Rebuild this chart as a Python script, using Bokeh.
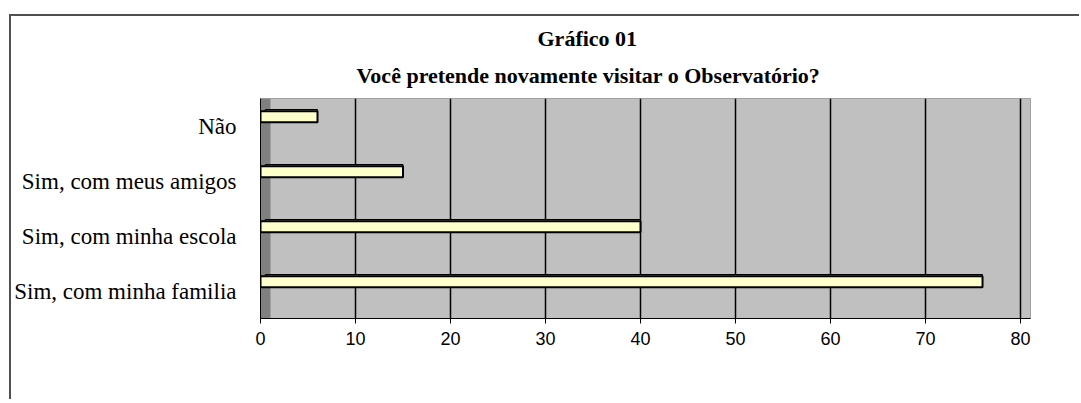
from bokeh.plotting import figure
from bokeh.models import FactorRange, Range1d, Title, BoxAnnotation, ColumnDataSource
from bokeh.transform import dodge
from bokeh.embed import file_html
from bokeh.resources import INLINE

# ---- data (bottom to top) ----
categories = ["Sim, com minha familia", "Sim, com minha escola", "Sim, com meus amigos", "Não"]
values = [76, 40, 15, 6]
x_ticks = [0, 10, 20, 30, 40, 50, 60, 70, 80]
title_line1 = "Gráfico 01"
title_line2 = "Você pretende novamente visitar o Observatório?"

src = ColumnDataSource(dict(cat=categories, val=values))

W, H = 1070, 385
p = figure(width=W, height=H, output_backend="svg", toolbar_location=None,
           y_range=FactorRange(factors=categories, range_padding=0),
           x_range=Range1d(0, 81.05),
           min_border_left=249, min_border_right=51, min_border_top=82, min_border_bottom=83)
p.styles = {"border-left": "2px solid #505050", "border-top": "2px solid #505050",
            "margin-top": "14px", "margin-left": "9px"}

p.background_fill_color = "#C0C0C0"
p.border_fill_color = "white"
p.outline_line_color = "#A0A0A0"
p.outline_line_width = 1

# side wall shading
p.add_layout(BoxAnnotation(left=0, right=1.05, fill_color="#808080", fill_alpha=1,
                           line_color=None, level="underlay"))

# grid
p.xgrid.ticker = x_ticks
p.xgrid.grid_line_color = "black"
p.xgrid.grid_line_width = 1.5
p.ygrid.grid_line_color = None

# 3D depth of bars
p.hbar(y=dodge("cat", 0.2, range=p.y_range), left=0.5, right="val", height=0.2,
       source=src, fill_color="#999966", line_color="black", line_width=1)
# front faces
p.hbar(y=dodge("cat", 0.17, range=p.y_range), left=0, right="val", height=0.2,
       source=src, fill_color="#FFFFCC", line_color="black", line_width=2)

# axes
p.xaxis.ticker = x_ticks
p.xaxis.axis_line_color = "black"
p.xaxis.major_tick_line_color = "black"
p.xaxis.major_tick_out = 5
p.xaxis.major_tick_in = 0
p.xaxis.minor_tick_line_color = None
p.xaxis.major_label_standoff = 8
p.xaxis.major_label_text_font = "Liberation Sans"
p.xaxis.major_label_text_font_size = "18px"
p.xaxis.major_label_text_color = "black"

p.yaxis.axis_line_color = "black"
p.yaxis.major_tick_line_color = None
p.yaxis.minor_tick_line_color = None
p.yaxis.major_label_standoff = 18
p.yaxis.major_label_text_font = "Liberation Serif"
p.yaxis.major_label_text_font_size = "23px"
p.yaxis.major_label_text_color = "black"

# titles (outer line first, inner line added last sits next to the frame)
p.title.text = title_line1
p.title.align = "left"
p.title.offset = 277
p.title.standoff = -3
p.title.text_font = "Liberation Serif"
p.title.text_font_style = "bold"
p.title.text_font_size = "22px"
p.title.text_color = "black"
t2 = Title(text=title_line2, align="left", offset=96, standoff=22,
           text_font="Liberation Serif", text_font_style="bold",
           text_font_size="22px", text_color="black")
p.add_layout(t2, "above")

open("out.html", "w").write(file_html(p, INLINE))
